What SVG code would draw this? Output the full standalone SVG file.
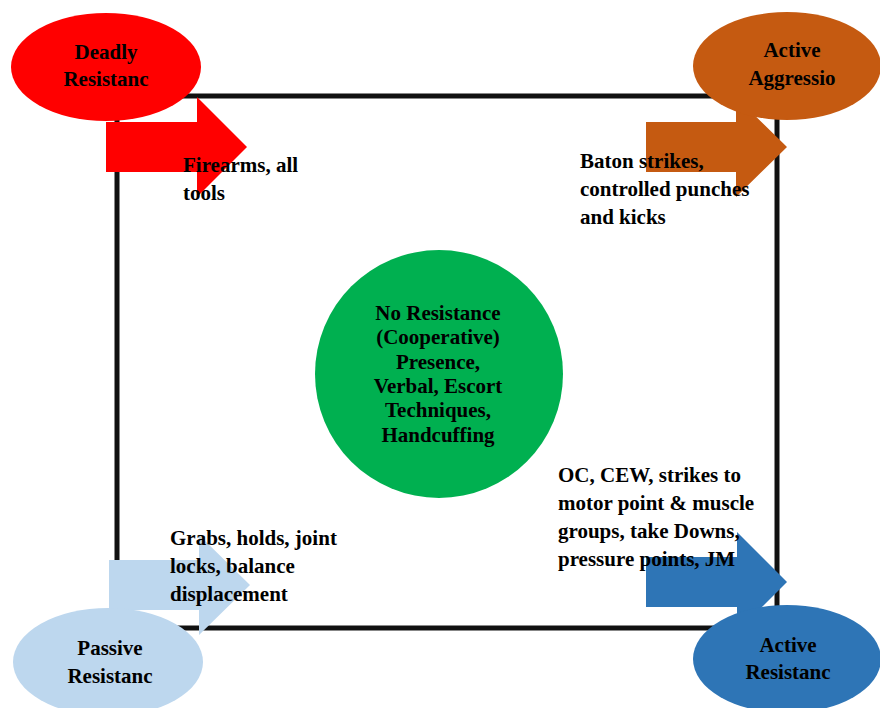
<svg xmlns="http://www.w3.org/2000/svg" width="880" height="708" viewBox="0 0 880 708">
<style>
text{font-family:"Liberation Serif","Times New Roman",serif;font-weight:bold;font-size:21px;fill:#000}
.c{text-anchor:middle}
</style>
<rect width="880" height="708" fill="#fff"/>
<g id="connectors">
<rect x="117" y="96" width="660" height="532" fill="none" stroke="#111" stroke-width="5"/>
<polygon points="106,122 197,122 197,97 247,147 197,197 197,172 106,172" fill="#FF0000"/>
<polygon points="646,122 736,122 736,97 787,147 736,197 736,172 646,172" fill="#C55A11"/>
<polygon points="109,560 199,560 199,535 250,585 199,635 199,610 109,610" fill="#BDD7EE"/>
<polygon points="646,557 737,557 737,532 787,582 737,632 737,607 646,607" fill="#2E75B6"/>
</g>
<g id="deadly">
<ellipse cx="106" cy="67" rx="95" ry="54" fill="#FF0000"/>
<text class="c" x="106" y="59">Deadly</text>
<text class="c" x="106" y="86">Resistanc</text>
</g>
<g id="aggression">
<ellipse cx="787" cy="66" rx="94" ry="54" fill="#C55A11"/>
<text class="c" x="792" y="57">Active</text>
<text class="c" x="792" y="85">Aggressio</text>
</g>
<g id="passive">
<ellipse cx="108" cy="662" rx="95" ry="54" fill="#BDD7EE"/>
<text class="c" x="110" y="655">Passive</text>
<text class="c" x="110" y="683">Resistanc</text>
</g>
<g id="active-resistance">
<ellipse cx="787" cy="659" rx="94" ry="54" fill="#2E75B6"/>
<text class="c" x="788" y="652">Active</text>
<text class="c" x="788" y="679">Resistanc</text>
</g>
<g id="no-resistance">
<circle cx="439" cy="374" r="124" fill="#00B050"/>
<text class="c" x="438" y="320">No Resistance</text>
<text class="c" x="438" y="344">(Cooperative)</text>
<text class="c" x="438" y="369">Presence,</text>
<text class="c" x="438" y="393">Verbal, Escort</text>
<text class="c" x="438" y="417">Techniques,</text>
<text class="c" x="438" y="442">Handcuffing</text>
</g>
<g id="deadly-label">
<text x="183" y="172">Firearms, all</text>
<text x="183" y="200">tools</text>
</g>
<g id="aggression-label">
<text x="580" y="168">Baton strikes,</text>
<text x="580" y="196">controlled punches</text>
<text x="580" y="224">and kicks</text>
</g>
<g id="passive-label">
<text x="170" y="545">Grabs, holds, joint</text>
<text x="170" y="573">locks, balance</text>
<text x="170" y="601">displacement</text>
</g>
<g id="active-resistance-label">
<text x="558" y="482">OC, CEW, strikes to</text>
<text x="558" y="510">motor point &amp; muscle</text>
<text x="558" y="538">groups, take Downs,</text>
<text x="558" y="566">pressure points, JM</text>
</g>
</svg>
